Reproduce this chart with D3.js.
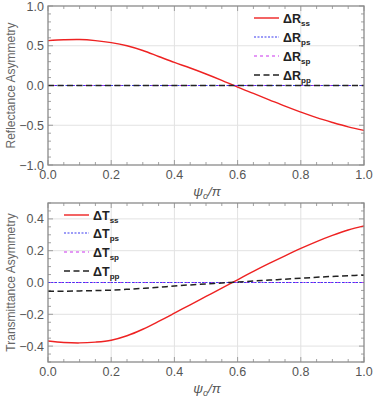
<!DOCTYPE html>
<html>
<head>
<meta charset="utf-8">
<script src="https://cdn.jsdelivr.net/npm/d3@7"></script>
<style>
  body { margin: 0; background: #fff; }
  text { font-family: "Liberation Sans", Arial, sans-serif; }
</style>
</head>
<body>
<div id="canvas"></div>
<script>
'use strict';

// psi_o / pi sample positions
const psi = [0, 0.05, 0.1, 0.15, 0.2, 0.25, 0.3, 0.35, 0.4, 0.45, 0.5,
  0.55, 0.6, 0.65, 0.7, 0.75, 0.8, 0.85, 0.9, 0.95, 1.0];

// reflectance asymmetry
const dRss = [0.565, 0.575, 0.578, 0.565, 0.54, 0.5, 0.44, 0.365, 0.29, 0.22,
  0.145, 0.065, -0.02, -0.1, -0.18, -0.26, -0.335, -0.405, -0.465, -0.52, -0.565];
const dRps = psi.map(() => 0);
const dRsp = psi.map(() => 0);
const dRpp = psi.map(() => 0);

// transmittance asymmetry
const dTss = [-0.368, -0.377, -0.38, -0.375, -0.363, -0.335, -0.294, -0.245, -0.193,
  -0.14, -0.088, -0.036, 0.017, 0.07, 0.12, 0.168, 0.214, 0.257, 0.296, 0.33, 0.356];
const dTps = psi.map(() => 0);
const dTsp = psi.map(() => 0);
const dTpp = [-0.055, -0.055, -0.053, -0.051, -0.048, -0.043, -0.037, -0.03, -0.022,
  -0.015, -0.009, -0.003, 0.003, 0.009, 0.015, 0.021, 0.027, 0.033, 0.038, 0.043, 0.046];

const xTicks = [0, 0.2, 0.4, 0.6, 0.8, 1.0];
const reflTicks = [-1, -0.5, 0, 0.5, 1];
const transTicks = [-0.4, -0.2, 0, 0.2, 0.4];

const styles = {
  ss: {color: '#ee2222', dash: null, width: 1.4},
  ps: {color: '#3b3bf0', dash: '2,1.5', width: 1.2},
  sp: {color: '#cc33ee', dash: '3,3', width: 1.2},
  pp: {color: '#222222', dash: '6,3.5', width: 1.5},
};

const svg = d3.select('#canvas').append('svg')
    .attr('width', 374)
    .attr('height', 397);

/* draws one framed panel in the Mathematica look */
function drawPanel(opts) {
  const x = d3.scaleLinear().domain([0, 1]).range([48, 364]);
  const y = d3.scaleLinear().domain(opts.yDomain).range([opts.bottom, opts.top]);
  const g = svg.append('g');
  const frame = '#8a8a8a';
  const tickText = '#555';

  // grid lines
  g.selectAll('.vgrid').data(xTicks.slice(1, -1)).join('line')
      .attr('x1', (d) => x(d)).attr('x2', (d) => x(d))
      .attr('y1', opts.top).attr('y2', opts.bottom)
      .attr('stroke', '#e2e2e2').attr('stroke-width', 1);
  g.selectAll('.hgrid').data(opts.yTicks.filter((d) => d !== 0 &&
      d > opts.yDomain[0] && d < opts.yDomain[1])).join('line')
      .attr('x1', 48).attr('x2', 364)
      .attr('y1', (d) => y(d)).attr('y2', (d) => y(d))
      .attr('stroke', '#e2e2e2').attr('stroke-width', 1);

  // minor ticks
  const xMinor = d3.range(0, 1.0001, 0.05);
  const yMinor = d3.range(opts.yDomain[0], opts.yDomain[1] + 1e-6, opts.yMinorStep);
  xMinor.forEach((d) => {
    const big = xTicks.some((t) => Math.abs(t - d) < 1e-6);
    const len = big ? 5 : 3;
    g.append('line').attr('x1', x(d)).attr('x2', x(d))
        .attr('y1', opts.bottom).attr('y2', opts.bottom - len)
        .attr('stroke', frame).attr('stroke-width', 0.8);
    g.append('line').attr('x1', x(d)).attr('x2', x(d))
        .attr('y1', opts.top).attr('y2', opts.top + len)
        .attr('stroke', frame).attr('stroke-width', 0.8);
  });
  yMinor.forEach((d) => {
    const big = opts.yTicks.some((t) => Math.abs(t - d) < 1e-6);
    const len = big ? 5 : 3;
    g.append('line').attr('x1', 48).attr('x2', 48 + len)
        .attr('y1', y(d)).attr('y2', y(d))
        .attr('stroke', frame).attr('stroke-width', 0.8);
    g.append('line').attr('x1', 364).attr('x2', 364 - len)
        .attr('y1', y(d)).attr('y2', y(d))
        .attr('stroke', frame).attr('stroke-width', 0.8);
  });

  // tick labels
  g.selectAll('.xl').data(xTicks).join('text')
      .attr('x', (d) => x(d)).attr('y', opts.bottom + 14)
      .attr('text-anchor', 'middle')
      .attr('font-size', 12.5).attr('fill', tickText)
      .text((d) => d3.format('.1f')(d));
  g.selectAll('.yl').data(opts.yTicks).join('text')
      .attr('x', 44).attr('y', (d) => y(d) + 4.5)
      .attr('text-anchor', 'end')
      .attr('font-size', 12.5).attr('fill', tickText)
      .text((d) => d3.format('.1f')(d).replace('-', '\u2212'));

  // curves
  const line = d3.line()
      .x((d, i) => x(psi[i]))
      .y((d) => y(d))
      .curve(d3.curveCatmullRom);
  const order = ['ss', 'ps', 'sp', 'pp'];
  const drawOrder = ['ss', 'sp', 'ps', 'pp'];
  drawOrder.forEach((k) => {
    const s = styles[k];
    g.append('path')
        .datum(opts.series[k])
        .attr('d', line)
        .attr('fill', 'none')
        .attr('stroke', s.color)
        .attr('stroke-width', s.width)
        .attr('stroke-dasharray', s.dash);
  });

  // frame
  g.append('rect')
      .attr('x', 48).attr('y', opts.top)
      .attr('width', 364 - 48).attr('height', opts.bottom - opts.top)
      .attr('fill', 'none').attr('stroke', frame).attr('stroke-width', 1.3);

  // axis labels
  g.append('text')
      .attr('transform', `translate(15, ${(opts.top + opts.bottom) / 2}) rotate(-90)`)
      .attr('text-anchor', 'middle')
      .attr('font-size', 12).attr('fill', '#666')
      .text(opts.yLabel);
  const xl = g.append('text')
      .attr('x', 207).attr('y', opts.bottom + 31)
      .attr('text-anchor', 'middle')
      .attr('font-size', 13.5).attr('fill', '#555')
      .attr('font-family', '"DejaVu Serif", serif')
      .attr('font-style', 'italic');
  xl.append('tspan').text('\u03C8');
  xl.append('tspan').attr('font-size', 9).attr('dy', 3).text('o');
  xl.append('tspan').attr('dy', -3).text('/\u03C0');

  // legend
  order.forEach((k, i) => {
    const s = styles[k];
    const ly = opts.legend.y[i];
    g.append('line')
        .attr('x1', opts.legend.x).attr('x2', opts.legend.x + 25)
        .attr('y1', ly).attr('y2', ly)
        .attr('stroke', s.color)
        .attr('stroke-width', s.width)
        .attr('stroke-dasharray', s.dash);
    const t = g.append('text')
        .attr('x', opts.legend.x + 29).attr('y', ly + 4.5)
        .attr('font-size', 12.5).attr('font-weight', 'bold').attr('fill', '#222');
    t.append('tspan').text('\u0394' + opts.legend.sym);
    t.append('tspan').attr('font-size', 8).attr('dy', 3).text(k);
  });
}

drawPanel({
  top: 6, bottom: 165,
  yDomain: [-1, 1], yTicks: reflTicks, yMinorStep: 0.1,
  yLabel: 'Reflectance Asymmetry',
  series: {ss: dRss, ps: dRps, sp: dRsp, pp: dRpp},
  legend: {x: 254, y: [18, 37, 56, 75], sym: 'R'},
});

drawPanel({
  top: 203, bottom: 362,
  yDomain: [-0.5, 0.5], yTicks: transTicks, yMinorStep: 0.05,
  yLabel: 'Transmittance Asymmetry',
  series: {ss: dTss, ps: dTps, sp: dTsp, pp: dTpp},
  legend: {x: 64, y: [215, 233, 252, 271], sym: 'T'},
});
</script>
</body>
</html>
